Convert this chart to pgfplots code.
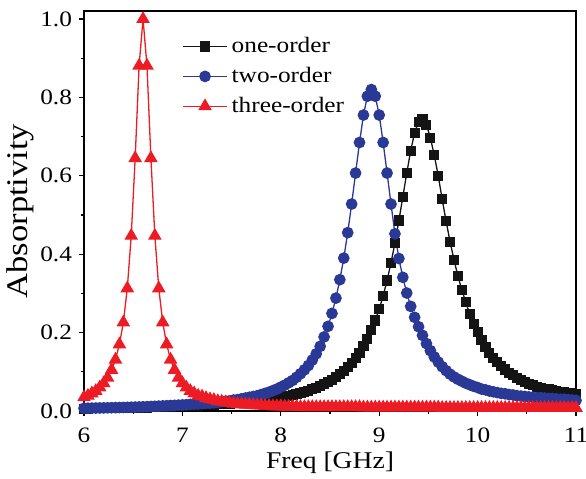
\documentclass[border=0pt]{standalone}
\usepackage{fontspec}
\setmainfont[FakeStretch=1.15]{Liberation Serif}
\usepackage{pgfplots}
\usepackage{pgfplotstable}
\pgfplotsset{compat=1.18}
\definecolor{cblue}{RGB}{43,57,150}
\definecolor{cred}{RGB}{237,28,36}
\definecolor{cblack}{RGB}{20,20,20}
\pgfplotstableread{
x one two three
6.00 0.006 0.0070 0.035
6.04 0.006 0.0072 0.039
6.08 0.007 0.0074 0.045
6.12 0.007 0.0076 0.051
6.16 0.007 0.0078 0.060
6.20 0.007 0.0080 0.071
6.24 0.007 0.0082 0.085
6.28 0.007 0.0084 0.105
6.32 0.008 0.0086 0.131
6.36 0.008 0.0088 0.170
6.40 0.008 0.0091 0.226
6.44 0.008 0.0094 0.313
6.48 0.008 0.0097 0.447
6.52 0.009 0.0100 0.645
6.56 0.009 0.0104 0.881
6.60 0.009 0.0107 1.000
6.64 0.009 0.0110 0.881
6.68 0.010 0.0115 0.645
6.72 0.010 0.0120 0.447
6.76 0.010 0.0125 0.313
6.80 0.011 0.0130 0.226
6.84 0.011 0.0135 0.170
6.88 0.011 0.0140 0.131
6.92 0.012 0.0145 0.105
6.96 0.012 0.0150 0.085
7.00 0.012 0.0155 0.071
7.04 0.013 0.0160 0.060
7.08 0.013 0.0170 0.051
7.12 0.014 0.0175 0.045
7.16 0.014 0.0180 0.039
7.20 0.015 0.0190 0.037
7.24 0.015 0.0200 0.033
7.28 0.016 0.0200 0.030
7.32 0.016 0.0210 0.028
7.36 0.017 0.0220 0.025
7.40 0.018 0.0240 0.024
7.44 0.018 0.0250 0.022
7.48 0.019 0.0260 0.021
7.52 0.020 0.0280 0.019
7.56 0.021 0.0290 0.018
7.60 0.021 0.0310 0.017
7.64 0.022 0.0330 0.016
7.68 0.023 0.0350 0.016
7.72 0.024 0.0370 0.015
7.76 0.026 0.0390 0.014
7.80 0.027 0.0420 0.014
7.84 0.028 0.0450 0.013
7.88 0.030 0.0480 0.013
7.92 0.031 0.0520 0.012
7.96 0.033 0.0560 0.012
8.00 0.035 0.0610 0.012
8.04 0.036 0.0660 0.011
8.08 0.039 0.0720 0.011
8.12 0.041 0.0780 0.011
8.16 0.043 0.0860 0.011
8.20 0.046 0.0950 0.010
8.24 0.049 0.1050 0.010
8.28 0.052 0.1160 0.010
8.32 0.056 0.1300 0.010
8.36 0.059 0.1460 0.010
8.40 0.064 0.1650 0.010
8.44 0.069 0.1890 0.010
8.48 0.074 0.2160 0.010
8.52 0.080 0.2490 0.010
8.56 0.086 0.2880 0.010
8.60 0.094 0.3350 0.010
8.64 0.102 0.3900 0.010
8.68 0.112 0.4550 0.010
8.72 0.123 0.5280 0.010
8.76 0.135 0.6070 0.010
8.80 0.149 0.6850 0.010
8.84 0.165 0.7550 0.009
8.88 0.184 0.8030 0.009
8.92 0.206 0.8200 0.009
8.96 0.231 0.8030 0.009
9.00 0.260 0.7550 0.009
9.04 0.294 0.6850 0.009
9.08 0.333 0.6070 0.009
9.12 0.378 0.5280 0.009
9.16 0.429 0.4520 0.009
9.20 0.486 0.3890 0.009
9.24 0.546 0.3410 0.009
9.28 0.607 0.3010 0.009
9.32 0.664 0.2670 0.009
9.36 0.710 0.2390 0.009
9.40 0.738 0.2150 0.009
9.44 0.744 0.1930 0.009
9.48 0.730 0.1720 0.009
9.52 0.697 0.1540 0.009
9.56 0.652 0.1380 0.009
9.60 0.600 0.1250 0.009
9.64 0.540 0.1130 0.008
9.68 0.484 0.1030 0.008
9.72 0.432 0.0940 0.008
9.76 0.386 0.0870 0.008
9.80 0.344 0.0810 0.008
9.84 0.309 0.0760 0.008
9.88 0.277 0.0710 0.008
9.92 0.248 0.0670 0.008
9.96 0.223 0.0630 0.008
10.00 0.201 0.0600 0.008
10.04 0.182 0.0560 0.008
10.08 0.164 0.0540 0.008
10.12 0.149 0.0510 0.008
10.16 0.136 0.0490 0.008
10.20 0.125 0.0470 0.008
10.24 0.115 0.0450 0.008
10.28 0.106 0.0440 0.008
10.32 0.098 0.0420 0.008
10.36 0.091 0.0410 0.008
10.40 0.085 0.0390 0.008
10.44 0.079 0.0380 0.008
10.48 0.075 0.0370 0.008
10.52 0.070 0.0360 0.008
10.56 0.066 0.0350 0.008
10.60 0.062 0.0340 0.008
10.64 0.059 0.0340 0.008
10.68 0.057 0.0330 0.008
10.72 0.055 0.0320 0.008
10.76 0.053 0.0320 0.008
10.80 0.051 0.0310 0.008
10.84 0.049 0.0300 0.008
10.88 0.048 0.0300 0.008
10.92 0.046 0.0290 0.008
10.96 0.045 0.0280 0.008
11.00 0.044 0.0270 0.008
}\datatable
\begin{document}
\begin{tikzpicture}
\begin{axis}[
  scale only axis,
  width=246pt, height=200pt,
  xmin=6, xmax=11, ymin=0, ymax=1.0204,
  xtick={6,7,8,9,10,11},
  minor xtick={6.5,7.5,8.5,9.5,10.5},
  ytick={0,0.2,0.4,0.6,0.8,1.0},
  minor ytick={0.1,0.3,0.5,0.7,0.9},
  tick align=outside,
  xtick pos=bottom, ytick pos=left,
  major tick length=2.5pt, minor tick length=1.6pt,
  axis line style={line width=0.6pt},
  tick style={line width=0.6pt, black},
  /pgf/number format/assume math mode=true,
  ticklabel style={font=\fontsize{11}{13}\selectfont},
  yticklabel style={/pgf/number format/.cd, fixed, fixed zerofill, precision=1},
  xticklabel style={yshift=-2.5pt, /pgf/number format/.cd, fixed, precision=0},
  xlabel={Freq [GHz]},
  ylabel={Absorptivity},
  xlabel style={font=\fontsize{12}{14}\selectfont, at={(axis description cs:0.5,-0.13)}, anchor=center},
  ylabel style={font=\fontsize{15}{17}\selectfont, at={(axis description cs:-0.13,0.5)}, anchor=center},
  legend style={at={(0.187,0.955)}, anchor=north west, draw=none, fill=none,
    font=\fontsize{11}{13}\selectfont, row sep=1.8pt},
  legend cell align=left,
  legend image code/.code={\draw[mark repeat=2,mark phase=2] plot coordinates {(0pt,0pt)(11pt,0pt)(22pt,0pt)};},
]
\addplot[cblack, line width=0.65pt, mark=square*, mark size=2.2pt, mark options={fill=cblack, draw=cblack}] table[x=x,y=one] {\datatable};
\addlegendentry{one-order}
\addplot[cblue, line width=0.65pt, mark=*, mark size=2.6pt, mark options={fill=cblue, draw=cblue}] table[x=x,y=two] {\datatable};
\addlegendentry{two-order}
\addplot[cred, line width=0.65pt, mark=triangle*, mark size=3.3pt, mark options={fill=cred, draw=cred}] table[x=x,y=three] {\datatable};
\addlegendentry{three-order}
\coordinate (SW) at (rel axis cs:0,0);
\coordinate (NE) at (rel axis cs:1,1);
\end{axis}
\pgfresetboundingbox
\path[use as bounding box] ([shift={(-42pt,-33.5pt)}]SW) rectangle ([shift={(5pt,5.5pt)}]NE);
\end{tikzpicture}
\end{document}
